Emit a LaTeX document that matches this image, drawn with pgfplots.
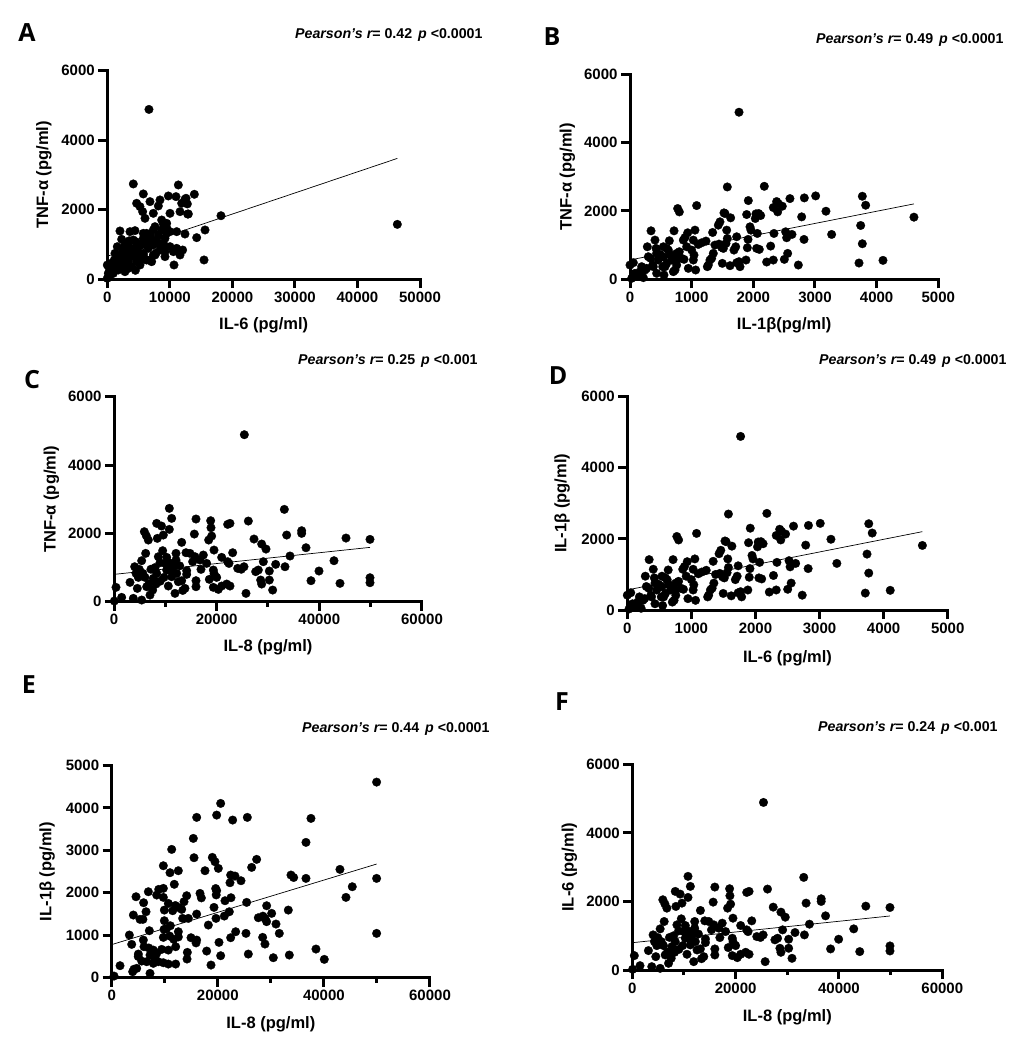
\documentclass[border=0pt]{standalone}
\usepackage{fontspec}
\setmainfont{Liberation Sans}
\newfontfamily\letterfont{Open Sans}
\usepackage{pgfplots}
\pgfplotsset{compat=1.18}
\pgfplotsset{
  panel/.style={
    scale only axis,
    axis x line*=bottom, axis y line*=left,
    axis line style={line width=3pt, line cap=rect},
    x axis line style={line width=3pt},
    y axis line style={line width=3pt},
    every tick/.style={line width=3pt,black},
    major tick length=9pt, minor tick length=5pt,
    tick align=outside,
    scaled ticks=false,
    xmin=0, ymin=0,
    clip=false,
    tick label style={font=\fontsize{15}{15}\selectfont\bfseries},
    /pgf/number format/1000 sep={},
    /pgf/number format/assume math mode=true,
    label style={font=\fontsize{16.5}{18}\selectfont\bfseries},
    xlabel style={at={(axis description cs:0.5,0)}, anchor=center, yshift=-46pt},
    ylabel style={at={(axis description cs:-0.203,0.5)}, anchor=center},
  },
  dots/.style={only marks, mark=*, mark size=4.3pt, mark options={fill=black, draw=black, line width=0.3pt}},
  fit/.style={black, line width=0.7pt, no marks},
}
\newcommand{\pear}[3]{\fontsize{14.2}{16}\selectfont\bfseries\itshape Pearson's r\upshape= #1\hspace{6pt}\itshape p\upshape\ #2}
\begin{document}
\begin{tikzpicture}
\useasboundingbox (0pt,0pt) rectangle (1028pt,-1044pt);
% Panel letters and statistics
\node[font=\letterfont\fontsize{25}{25}\selectfont\bfseries] at (27pt,-33pt) {A};
\node[font=\letterfont\fontsize{25}{25}\selectfont\bfseries] at (552pt,-37pt) {B};
\node[font=\letterfont\fontsize{25}{25}\selectfont\bfseries] at (32pt,-380pt) {C};
\node[font=\letterfont\fontsize{25}{25}\selectfont\bfseries] at (558pt,-376pt) {D};
\node[font=\letterfont\fontsize{25}{25}\selectfont\bfseries] at (29pt,-685pt) {E};
\node[font=\letterfont\fontsize{25}{25}\selectfont\bfseries] at (562pt,-702pt) {F};
\node[anchor=west, inner sep=0pt] at (295pt,-35pt) {\pear{0.42}{<0.0001}{}};
\node[anchor=west, inner sep=0pt] at (816pt,-40pt) {\pear{0.49}{<0.0001}{}};
\node[anchor=west, inner sep=0pt] at (298pt,-361pt) {\pear{0.25}{<0.001}{}};
\node[anchor=west, inner sep=0pt] at (819pt,-361pt) {\pear{0.49}{<0.0001}{}};
\node[anchor=west, inner sep=0pt] at (302pt,-729pt) {\pear{0.44}{<0.0001}{}};
\node[anchor=west, inner sep=0pt] at (818pt,-728pt) {\pear{0.24}{<0.001}{}};

% ---------------- A ----------------
\begin{axis}[panel, at={(107.3pt,-279pt)}, anchor=south west, width=312.7pt, height=208.3pt,
  xmax=50000, ymax=6000, xtick={0,10000,20000,30000,40000,50000}, ytick={0,2000,4000,6000},
  xlabel={IL-6 (pg/ml)}, ylabel={TNF-α (pg/ml)}]
\addplot[dots] coordinates {
(6663,4885) (46375,1574) (18177,1823) (4160,2738) (11360,2709) (5760,2450) (9760,2392) (10987,2373)
(13920,2440) (12587,2325) (8427,2277) (4693,2181) (5227,2085) (6827,2229) (8160,2104) (11893,2181)
(12800,2162) (5653,1940) (7360,1892) (10027,1892) (11627,1940) (12960,1873) (6027,1748) (8693,1700)
(9493,1604) (7627,1508) (8693,1412) (2027,1383) (3627,1364) (4427,1393) (10027,1364) (11093,1364)
(15627,1412) (14293,1191) (2293,1143) (4160,1124) (5760,1172) (6827,1268) (8160,1268) (9227,1172)
(1227,740) (2027,692) (2827,788) (3360,932) (4693,884) (5493,980) (6293,1076) (7360,980)
(7893,1124) (8960,1028) (10027,932) (10560,788) (11093,884) (11627,692) (9227,644) (1120,548)
(587,452) (320,307) (1493,404) (2560,452) (3360,500) (3893,356) (4693,500) (5227,404)
(6027,567) (6827,548) (7360,692) (5760,692) (4160,644) (960,163) (1760,259) (2827,211)
(15467,548) (10667,404) (9227,788) (8427,836) (4960,788) (427,115) (0,20) (0,403)
(12420,1296) (12047,835) (9488,1478) (8955,1584) (7356,1411) (2559,547) (3092,739) (3891,883)
(5224,595) (6290,547) (7090,499) (7622,691) (8422,998) (6557,883) (5757,739) (3625,355)
(1599,931) (2825,979) (6290,1315) (5757,1315) (9488,1315) (9115,883) (7249,1123) (4584,1075)
(1226,499) (160,163) (12846,1871) (12420,2294) (1800,600) (3000,650) (2400,850) (4000,750)
(5000,1000) (6500,950) (3500,1100) (7800,750) (2200,300) (3300,300) (4500,250) (1000,300)
};
\addplot[fit] coordinates {(0,655) (46375,3474)};
\end{axis}

% ---------------- B ----------------
\begin{axis}[panel, at={(630pt,-279.3pt)}, anchor=south west, width=308.3pt, height=205.3pt,
  xmax=5000, ymax=6000, xtick={0,1000,2000,3000,4000,5000}, ytick={0,2000,4000,6000},
  xlabel={IL-1β(pg/ml)}, ylabel={TNF-α (pg/ml)}]
\addplot[dots] coordinates {
(1768,4883) (1578,2699) (2178,2718) (1081,2155) (773,2068) (800,1970) (1919,2301) (1524,1942)
(1632,1796) (1459,1680) (1892,1893) (2043,1913) (2086,1922) (2119,1864) (2032,1777) (2378,2272)
(2405,2213) (2470,2136) (2324,2097) (2395,1971) (2594,2359) (2827,2379) (3011,2437) (3178,1990)
(2784,1825) (3768,2427) (3822,2165) (4605,1816) (3741,1573) (3768,1039) (3714,476) (4103,553)
(3270,1311) (2822,1165) (2627,1311) (2541,1214) (2524,1388) (2335,1340) (2557,757) (2730,417)
(2503,583) (2324,563) (2216,505) (2281,971) (2097,874) (2054,903) (2065,1340) (1946,1534)
(1962,1437) (1914,1165) (1903,922) (1881,563) (1768,515) (1784,369) (1730,485) (1622,398)
(1497,466) (1686,854) (1714,951) (1730,1243) (1578,1194) (1557,1049) (1568,1437) (1443,1029)
(1514,903) (1378,1000) (1351,757) (1324,612) (1270,417) (1340,1369) (1232,1117) (1162,1068)
(1108,1019) (1065,272) (946,320) (1027,563) (1038,709) (1000,854) (1054,1437) (1027,1146)
(935,1359) (892,1223) (919,951) (865,1146) (800,806) (876,583) (757,563) (703,223)
(714,1417) (595,903) (638,1126) (541,951) (486,728) (541,660) (595,466) (530,369)
(405,1146) (422,903) (432,757) (341,1417) (281,951) (297,660) (368,417) (270,320)
(189,369) (162,223) (81,175) (108,107) (27,29) (0,417) (54,485) (551,126)
(216,49) (703,612) (649,709) (757,757) (757,417) (243,272) (335,612) (378,369)
(432,175) (459,563) (514,660) (568,369) (622,854) (676,563) (730,272) (838,612)
(1486,932) (1432,1583) (1297,563) (1254,369) (1541,1922)
};
\addplot[fit] coordinates {(0,565) (4605,2204)};
\end{axis}

% ---------------- C ----------------
\begin{axis}[panel, at={(114pt,-601.7pt)}, anchor=south west, width=308pt, height=205pt,
  xmax=60000, ymax=6000, xtick={0,20000,40000,60000}, minor xtick={10000,30000,50000}, ytick={0,2000,4000,6000},
  xlabel={IL-8 (pg/ml)}, ylabel={TNF-α (pg/ml)}]
\addplot[dots] coordinates {
(25390,4888) (33182,2702) (10779,2732) (11234,2439) (15974,2420) (18831,2371) (26169,2361) (22597,2293)
(22143,2263) (8312,2293) (9253,2215) (5909,2049) (6300,1930) (6688,1805) (10779,2117) (18896,2166)
(19026,1922) (18442,1805) (15649,1980) (9610,1951) (8442,1854) (13182,1737) (27273,1834) (28766,1688)
(29610,1541) (33636,1951) (36558,2078) (36558,2000) (37403,1580) (45195,1863) (49870,1824) (34286,1337)
(42857,1200) (33312,1024) (31494,1093) (39935,898) (38377,615) (44026,537) (49870,702) (49870,556)
(30909,341) (30260,634) (30260,898) (29091,1171) (28571,634) (28766,517) (28117,927) (27600,880)
(25714,244) (25325,1024) (24800,950) (24091,976) (23117,1434) (22143,1171) (22400,1120) (20974,1298)
(19481,1512) (19351,927) (19500,820) (20000,712) (18571,654) (19351,420) (20325,361) (20974,459)
(22597,459) (21948,517) (17403,1366) (16753,1220) (16948,946) (18052,1122) (15974,615) (15974,439)
(15779,1317) (14805,1415) (14026,1434) (15325,1171) (14156,907) (14156,800) (13831,390) (13400,330)
(13182,615) (12078,1415) (12078,1220) (11558,1024) (10779,1141) (10260,927) (9740,712) (11234,732)
(12208,829) (12532,585) (11883,244) (10584,459) (9481,1493) (8636,1317) (8961,1141) (8312,829)
(7662,683) (8182,517) (7532,341) (7013,195) (6364,439) (6039,712) (6169,1415) (5390,1200)
(4935,946) (4286,829) (4026,1024) (4740,712) (4545,390) (3766,98) (3117,566) (5390,49)
(1494,127) (390,420) (65,20) (10260,1298) (9935,1122) (7200,950) (6800,520) (8000,1000)
(11000,920) (12800,1050) (9000,600) (5600,830) (10500,1000)
};
\addplot[fit] coordinates {(0,800) (49870,1590)};
\end{axis}

% ---------------- D ----------------
\begin{axis}[panel, at={(627.3pt,-610pt)}, anchor=south west, width=320.4pt, height=213.3pt,
  xmax=5000, ymax=6000, xtick={0,1000,2000,3000,4000,5000}, ytick={0,2000,4000,6000},
  xlabel={IL-6 (pg/ml)}, ylabel={IL-1β (pg/ml)}, xlabel style={yshift=-2pt}]
\addplot[dots] coordinates {
(1768,4883) (1578,2699) (2178,2718) (1081,2155) (773,2068) (800,1970) (1919,2301) (1524,1942)
(1632,1796) (1459,1680) (1892,1893) (2043,1913) (2086,1922) (2119,1864) (2032,1777) (2378,2272)
(2405,2213) (2470,2136) (2324,2097) (2395,1971) (2594,2359) (2827,2379) (3011,2437) (3178,1990)
(2784,1825) (3768,2427) (3822,2165) (4605,1816) (3741,1573) (3768,1039) (3714,476) (4103,553)
(3270,1311) (2822,1165) (2627,1311) (2541,1214) (2524,1388) (2335,1340) (2557,757) (2730,417)
(2503,583) (2324,563) (2216,505) (2281,971) (2097,874) (2054,903) (2065,1340) (1946,1534)
(1962,1437) (1914,1165) (1903,922) (1881,563) (1768,515) (1784,369) (1730,485) (1622,398)
(1497,466) (1686,854) (1714,951) (1730,1243) (1578,1194) (1557,1049) (1568,1437) (1443,1029)
(1514,903) (1378,1000) (1351,757) (1324,612) (1270,417) (1340,1369) (1232,1117) (1162,1068)
(1108,1019) (1065,272) (946,320) (1027,563) (1038,709) (1000,854) (1054,1437) (1027,1146)
(935,1359) (892,1223) (919,951) (865,1146) (800,806) (876,583) (757,563) (703,223)
(714,1417) (595,903) (638,1126) (541,951) (486,728) (541,660) (595,466) (530,369)
(405,1146) (422,903) (432,757) (341,1417) (281,951) (297,660) (368,417) (270,320)
(189,369) (162,223) (81,175) (108,107) (27,29) (0,417) (54,485) (551,126)
(216,49) (703,612) (649,709) (757,757) (757,417) (243,272) (335,612) (378,369)
(432,175) (459,563) (514,660) (568,369) (622,854) (676,563) (730,272) (838,612)
(1486,932) (1432,1583) (1297,563) (1254,369) (1541,1922)
};
\addplot[fit] coordinates {(0,565) (4605,2204)};
\end{axis}

% ---------------- E ----------------
\begin{axis}[panel, at={(111.7pt,-977.7pt)}, anchor=south west, width=318.3pt, height=212.3pt,
  xmax=60000, ymax=5000, xtick={0,20000,40000,60000}, minor xtick={10000,30000,50000}, ytick={0,1000,2000,3000,4000,5000},
  xlabel={IL-8 (pg/ml)}, ylabel={IL-1β (pg/ml)}, xlabel style={yshift=-1pt}]
\addplot[dots] coordinates {
(49937,4607) (20540,4105) (19787,3830) (16018,3776) (22801,3713) (25565,3776) (37563,3752) (36621,3187)
(15389,3281) (11307,3022) (15515,2826) (18970,2834) (19472,2732) (27324,2787) (26382,2598) (20101,2575)
(17588,2520) (9736,2637) (10992,2473) (12563,2520) (22425,2418) (23241,2394) (22299,2237) (24372,2284)
(33794,2418) (34300,2360) (36621,2339) (43028,2551) (49937,2339) (45352,2143) (44159,1892) (49937,1044)
(38505,675) (40075,432) (33480,534) (30465,471) (33291,1593) (31595,1044) (30967,1264) (30151,1515)
(29209,1695) (28894,1397) (29200,1320) (27638,1413) (28500,1450) (28894,793) (28455,950) (25440,1774)
(25314,1044) (25754,557) (22487,1884) (22173,1554) (21231,1452) (21357,1813) (19787,2049) (19700,1950)
(19600,2100) (19284,1656) (19661,1397) (18216,1240) (17902,628) (18719,298) (20540,518) (20226,832)
(22425,942) (23367,1083) (16646,1986) (16900,1880) (16018,1499) (16018,887) (15900,820) (14950,942)
(14259,597) (14200,440) (14447,1397) (14133,1931) (13631,1790) (13191,1609) (12563,1656) (13379,1397)
(12563,1083) (12563,960) (12060,322) (12060,730) (11683,903) (10678,1750) (11495,1578) (11055,1224)
(10929,981) (10678,651) (10678,322) (9925,1593) (9736,1892) (8862,2080) (8480,1947) (9736,2104)
(9925,1342) (9862,1138) (9736,950) (9422,667) (9736,353) (8480,573) (8200,450) (7852,338)
(7852,651) (7098,1107) (6910,2025) (6470,1554) (5885,1374) (6015,1766) (4585,1907) (4083,1476)
(3769,785) (3329,1005) (5339,1374) (5967,887) (6093,730) (5025,557) (5653,392) (6596,377)
(4711,220) (3957,141) (7224,102) (1570,283) (440,39) (8794,377) (7224,534) (11800,2200)
(12000,1700) (10300,1150) (7000,700) (8000,480) (5000,500) (4200,200)
};
\addplot[fit] coordinates {(0,780) (49937,2677)};
\end{axis}

% ---------------- F ----------------
\begin{axis}[panel, at={(632.3pt,-970pt)}, anchor=south west, width=310pt, height=205.7pt,
  xmax=60000, ymax=6000, xtick={0,20000,40000,60000}, minor xtick={10000,30000,50000}, ytick={0,2000,4000,6000},
  xlabel={IL-8 (pg/ml)}, ylabel={IL-6 (pg/ml)}, xlabel style={yshift=-1pt}]
\addplot[dots] coordinates {
(25390,4888) (33182,2702) (10779,2732) (11234,2439) (15974,2420) (18831,2371) (26169,2361) (22597,2293)
(22143,2263) (8312,2293) (9253,2215) (5909,2049) (6300,1930) (6688,1805) (10779,2117) (18896,2166)
(19026,1922) (18442,1805) (15649,1980) (9610,1951) (8442,1854) (13182,1737) (27273,1834) (28766,1688)
(29610,1541) (33636,1951) (36558,2078) (36558,2000) (37403,1580) (45195,1863) (49870,1824) (34286,1337)
(42857,1200) (33312,1024) (31494,1093) (39935,898) (38377,615) (44026,537) (49870,702) (49870,556)
(30909,341) (30260,634) (30260,898) (29091,1171) (28571,634) (28766,517) (28117,927) (27600,880)
(25714,244) (25325,1024) (24800,950) (24091,976) (23117,1434) (22143,1171) (22400,1120) (20974,1298)
(19481,1512) (19351,927) (19500,820) (20000,712) (18571,654) (19351,420) (20325,361) (20974,459)
(22597,459) (21948,517) (17403,1366) (16753,1220) (16948,946) (18052,1122) (15974,615) (15974,439)
(15779,1317) (14805,1415) (14026,1434) (15325,1171) (14156,907) (14156,800) (13831,390) (13400,330)
(13182,615) (12078,1415) (12078,1220) (11558,1024) (10779,1141) (10260,927) (9740,712) (11234,732)
(12208,829) (12532,585) (11883,244) (10584,459) (9481,1493) (8636,1317) (8961,1141) (8312,829)
(7662,683) (8182,517) (7532,341) (7013,195) (6364,439) (6039,712) (6169,1415) (5390,1200)
(4935,946) (4286,829) (4026,1024) (4740,712) (4545,390) (3766,98) (3117,566) (5390,49)
(1494,127) (390,420) (65,20) (10260,1298) (9935,1122) (7200,950) (6800,520) (8000,1000)
(11000,920) (12800,1050) (9000,600) (5600,830) (10500,1000)
};
\addplot[fit] coordinates {(0,797) (49870,1576)};
\end{axis}
\end{tikzpicture}
\end{document}
